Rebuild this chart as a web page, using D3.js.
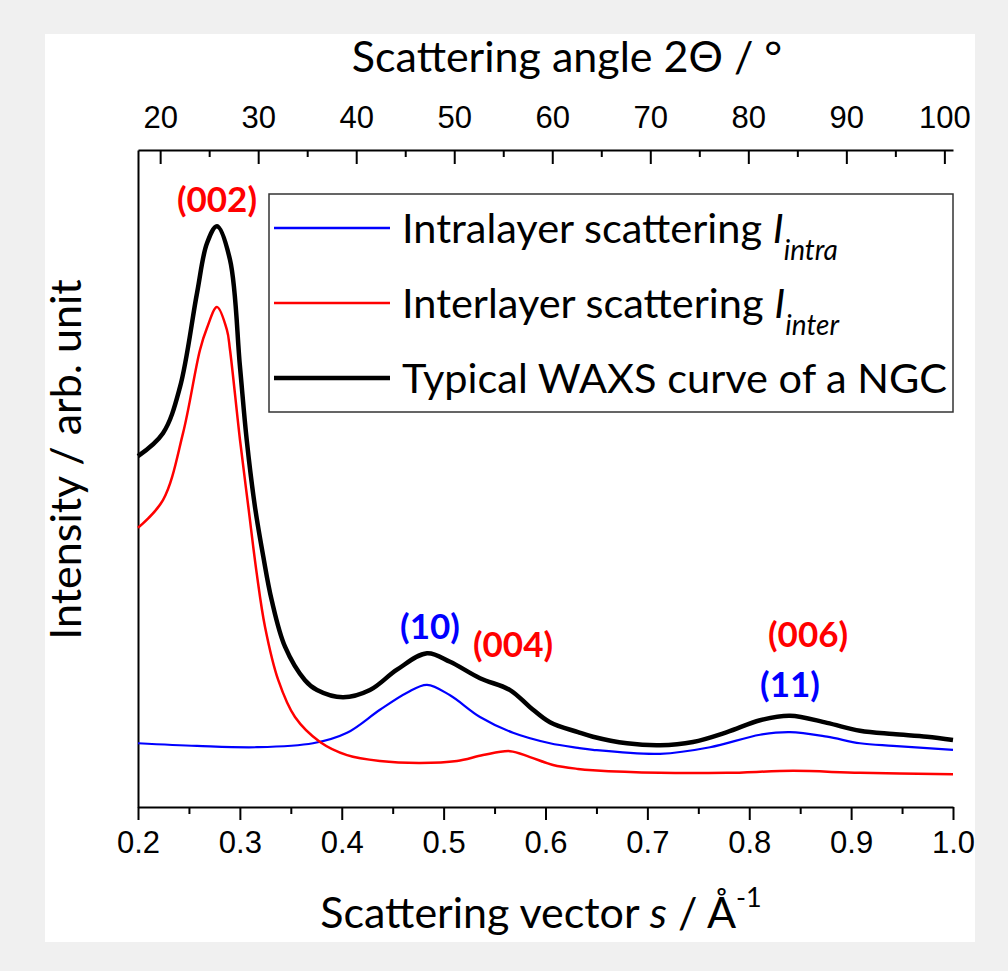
<!DOCTYPE html>
<html>
<head>
<meta charset="utf-8">
<script src="https://cdn.jsdelivr.net/npm/d3@7"></script>
<style>
body { margin: 0; background: #f0f0f0; }
svg text { fill: #000; }
</style>
</head>
<body>
<div id="chart"></div>
<script>
// values (s in 1/A, intensity in arb. units 0..100)
var sBlack = [0.2, 0.2245, 0.2412, 0.2579, 0.2677, 0.2775, 0.2903, 0.3001, 0.3067, 0.3148, 0.3230, 0.3312, 0.3443, 0.3639, 0.3757, 0.4012, 0.4277, 0.4542, 0.4837, 0.5063, 0.5357, 0.5652, 0.5848, 0.6044, 0.6319, 0.6466, 0.68, 0.7124, 0.7448, 0.7782, 0.8106, 0.84, 0.8763, 0.9087, 0.9411, 0.9745, 1.0]
var iBlack = [53.4, 56.9, 63.9, 78.2, 85.8, 88.4, 83.3, 67.0, 55.9, 45.7, 38.1, 31.5, 24.4, 19.3, 17.8, 16.7, 17.8, 20.9, 23.4, 22.1, 19.6, 17.8, 15.2, 12.9, 11.4, 10.7, 9.7, 9.4, 9.9, 11.4, 13.2, 13.9, 12.8, 11.6, 11.1, 10.7, 10.2]

var sBlue = [0.2, 0.2579, 0.3168, 0.3718, 0.4052, 0.4375, 0.464, 0.4837, 0.5063, 0.5357, 0.5681, 0.6044, 0.6319, 0.6466, 0.7124, 0.7615, 0.8106, 0.84, 0.8763, 0.9087, 0.9411, 1.0]
var iBlue = [9.7, 9.3, 9.1, 9.7, 11.3, 14.8, 17.4, 18.6, 17.0, 13.7, 11.3, 9.7, 9.0, 8.7, 8.1, 9.1, 11.0, 11.4, 10.7, 9.7, 9.3, 8.7]

var sRed = [0.2, 0.2245, 0.2442, 0.2609, 0.2677, 0.2775, 0.2873, 0.2903, 0.3001, 0.3083, 0.3165, 0.3247, 0.3377, 0.3541, 0.3787, 0.4052, 0.4375, 0.4768, 0.5131, 0.5387, 0.5652, 0.5848, 0.6074, 0.6319, 0.6466, 0.7124, 0.7782, 0.843, 0.9087, 1.0]
var iRed = [42.5, 46.7, 56.9, 69.6, 72.9, 76.1, 72.6, 69.6, 55.9, 45.7, 35.6, 27.4, 19.3, 13.7, 9.9, 7.9, 7.0, 6.7, 7.0, 7.9, 8.5, 7.6, 6.4, 5.8, 5.6, 5.2, 5.2, 5.5, 5.2, 5.0]

var sTicks = [0.2, 0.3, 0.4, 0.5, 0.6, 0.7, 0.8, 0.9, 1.0]
var sMinor = [0.25, 0.35, 0.45, 0.55, 0.65, 0.75, 0.85, 0.95]
var angleTicks = [20, 30, 40, 50, 60, 70, 80, 90, 100]
var angleMinor = [25, 35, 45, 55, 65, 75, 85, 95]

var peakLabels = ["(002)", "(10)", "(004)", "(006)", "(11)"]
var peakS = [0.2775, 0.4866, 0.5681, 0.8577, 0.84]
var peakI = [90.6, 25.6, 22.8, 24.4, 16.7]
var peakColor = ["red", "blue", "red", "red", "blue"]

var legendNames = ["Intralayer scattering ", "Interlayer scattering ", "Typical WAXS curve of a NGC"]
var legendSub = ["intra", "inter", ""]
var legendColor = ["blue", "red", "black"]
var legendWidth = [2.5, 2.5, 4.5]

var uiFont = "Lato, 'Open Sans', sans-serif"
var numFont = "'Liberation Sans', Arial, sans-serif"

var margin = {top: 150, right: 55, bottom: 164, left: 138},
    width = 1008 - margin.left - margin.right,
    height = 971 - margin.top - margin.bottom;

var root = d3.select("#chart")
  .append("svg")
    .attr("width", 1008)
    .attr("height", 971)

// white panel
root.append("rect")
  .attr("x", 45).attr("y", 34)
  .attr("width", 930).attr("height", 908)
  .attr("fill", "#fff")

var svg = root.append("g")
  .attr("transform", "translate(" + margin.left + "," + margin.top + ")");

var x = d3.scaleLinear().domain([0.2, 1.0]).range([0, width])
// 2theta axis (Cu K-alpha), linear over the same span
var xTop = d3.scaleLinear().domain([17.74, 100.88]).range([0, width])
var y = d3.scaleLinear().domain([0, 100]).range([height, 0])

// bottom axis
svg.append("g")
  .attr("transform", "translate(0," + height + ")")
  .call(d3.axisBottom(x).tickValues(sTicks).tickFormat(d3.format(".1f"))
    .tickSize(13).tickSizeOuter(0).tickPadding(11))
svg.append("g")
  .attr("transform", "translate(0," + height + ")")
  .call(d3.axisBottom(x).tickValues(sMinor).tickFormat("").tickSize(7).tickSizeOuter(0))
  .select(".domain").remove()

// top axis, ticks pointing in
svg.append("g")
  .call(d3.axisTop(xTop).tickValues(angleTicks).tickSize(-14).tickSizeOuter(0).tickPadding(22))
svg.append("g")
  .call(d3.axisTop(xTop).tickValues(angleMinor).tickFormat("").tickSize(-7).tickSizeOuter(0))
  .select(".domain").remove()

// left axis, line only
svg.append("g")
  .call(d3.axisLeft(y).tickValues([]).tickSizeOuter(0))

svg.selectAll(".domain, .tick line")
  .attr("stroke", "#000").attr("stroke-width", 2)
svg.selectAll(".tick text")
  .attr("font-family", numFont).attr("font-size", 31)

// curves
var line = d3.line()
  .x(d => x(d[0]))
  .y(d => y(d[1]))
  .curve(d3.curveCatmullRom.alpha(0.5))

svg.append("path")
  .attr("d", line(d3.zip(sBlue, iBlue)))
  .attr("fill", "none").attr("stroke", "blue").attr("stroke-width", 2.2)
svg.append("path")
  .attr("d", line(d3.zip(sRed, iRed)))
  .attr("fill", "none").attr("stroke", "red").attr("stroke-width", 2.5)
svg.append("path")
  .attr("d", line(d3.zip(sBlack, iBlack)))
  .attr("fill", "none").attr("stroke", "black").attr("stroke-width", 4.5)

// peak labels
svg.selectAll(".peak")
  .data(peakLabels)
  .enter().append("text")
    .attr("class", "peak")
    .attr("x", (d, i) => x(peakS[i]))
    .attr("y", (d, i) => y(peakI[i]))
    .attr("text-anchor", "middle")
    .attr("font-family", uiFont).attr("font-weight", "bold").attr("font-size", 35)
    .style("fill", (d, i) => peakColor[i])
    .text(d => d)

// legend
var lg = svg.append("g").attr("transform", "translate(131,44)")
lg.append("rect")
  .attr("width", width - 131).attr("height", 218)
  .attr("fill", "#fff").attr("stroke", "#333").attr("stroke-width", 1.5)
legendNames.forEach(function (name, i) {
  var yy = 34 + i * 75
  lg.append("line")
    .attr("x1", 5).attr("x2", 121).attr("y1", yy).attr("y2", yy)
    .attr("stroke", legendColor[i]).attr("stroke-width", legendWidth[i])
  var t = lg.append("text")
    .attr("x", 133).attr("y", yy + 15)
    .attr("font-family", uiFont).attr("font-size", 41.5)
  t.append("tspan").text(name)
  if (legendSub[i]) {
    t.append("tspan").attr("font-style", "italic").text("I")
    t.append("tspan").attr("font-style", "italic").attr("font-size", 28)
      .attr("dy", 17).text(legendSub[i])
  }
})

// axis titles
svg.append("text")
  .attr("x", 429).attr("y", -78)
  .attr("text-anchor", "middle")
  .attr("font-family", uiFont).attr("font-size", 43)
  .text("Scattering angle 2\u0398 / \u00b0")

var bt = svg.append("text")
  .attr("x", 403).attr("y", height + 121)
  .attr("text-anchor", "middle")
  .attr("font-family", uiFont).attr("font-size", 43)
bt.append("tspan").text("Scattering vector ")
bt.append("tspan").attr("font-style", "italic").text("s")
bt.append("tspan").text(" / \u00c5")
bt.append("tspan").attr("font-size", 27).attr("dy", -21).text("-1")

svg.append("text")
  .attr("transform", "translate(-57," + (height / 2 - 19) + ") rotate(-90)")
  .attr("text-anchor", "middle")
  .attr("font-family", uiFont).attr("font-size", 43)
  .text("Intensity / arb. unit")
</script>
</body>
</html>
